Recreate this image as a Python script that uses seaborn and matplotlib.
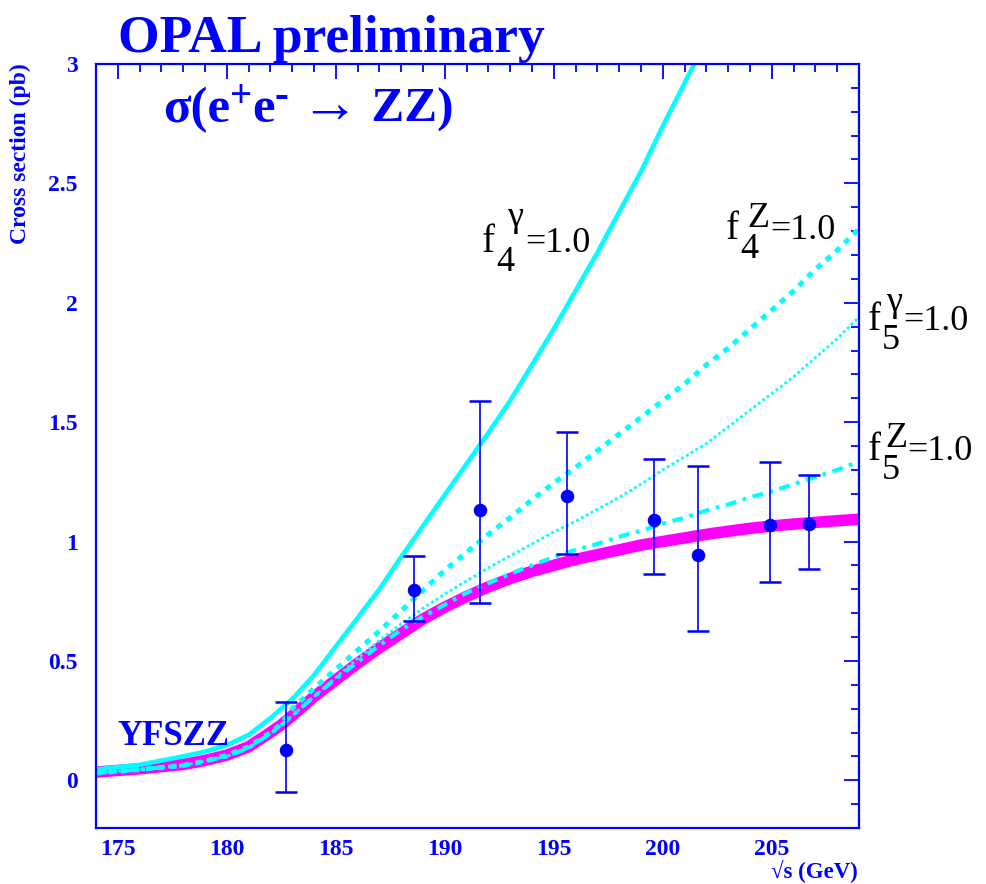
import numpy as np
import pandas as pd
import matplotlib
matplotlib.use("Agg")
import matplotlib.pyplot as plt
import seaborn as sns
from matplotlib.ticker import MultipleLocator, FuncFormatter

# ---------------- data ----------------
energy = [174, 176, 178, 179, 180, 181, 182, 182.5, 183, 184, 185, 186, 187, 188,
          189, 190, 191, 192, 193, 194, 195, 196, 197, 198, 199, 200, 201, 202,
          203, 204, 205, 206, 207, 208, 209]

sm_yfszz = [0.034, 0.048, 0.066, 0.083, 0.105, 0.14, 0.20, 0.232, 0.27, 0.35, 0.42,
            0.49, 0.555, 0.615, 0.675, 0.725, 0.77, 0.81, 0.845, 0.875, 0.90,
            0.925, 0.945, 0.965, 0.985, 1.0, 1.015, 1.03, 1.043, 1.055, 1.065,
            1.073, 1.08, 1.087, 1.093]

f4_gamma = [0.045, 0.065, 0.10, 0.12, 0.147, 0.19, 0.26, 0.30, 0.34, 0.44, 0.56,
            0.68, 0.80, 0.935, 1.065, 1.195, 1.325, 1.455, 1.59, 1.74, 1.89, 2.05,
            2.21, 2.38, 2.55, 2.74, 2.92, 3.10, 3.28, 3.46, 3.65, 3.84, 4.03, 4.23,
            4.43]

f4_z = [0.03, 0.045, 0.062, 0.08, 0.105, 0.14, 0.20, 0.235, 0.30, 0.385, 0.465,
        0.545, 0.625, 0.71, 0.795, 0.88, 0.955, 1.03, 1.10, 1.175, 1.245, 1.31,
        1.38, 1.45, 1.52, 1.59, 1.66, 1.74, 1.81, 1.89, 1.97, 2.05, 2.14, 2.22,
        2.31]

f5_gamma = [0.03, 0.045, 0.062, 0.08, 0.10, 0.135, 0.195, 0.23, 0.27, 0.35, 0.43,
            0.51, 0.585, 0.655, 0.72, 0.78, 0.835, 0.89, 0.94, 0.99, 1.04, 1.085,
            1.135, 1.185, 1.24, 1.30, 1.355, 1.41, 1.48, 1.55, 1.62, 1.69, 1.77,
            1.85, 1.94]

f5_z = [0.03, 0.045, 0.062, 0.08, 0.10, 0.135, 0.195, 0.23, 0.27, 0.35, 0.425,
        0.495, 0.565, 0.63, 0.685, 0.735, 0.785, 0.825, 0.865, 0.90, 0.935, 0.965,
        0.99, 1.02, 1.045, 1.075, 1.10, 1.13, 1.155, 1.185, 1.21, 1.24, 1.27,
        1.30, 1.335]

data_energy = [182.7, 188.6, 191.6, 195.6, 199.6, 201.6, 204.9, 206.7]
data_xsec = [0.126, 0.796, 1.131, 1.19, 1.089, 0.943, 1.068, 1.072]
data_err_up = [0.20, 0.144, 0.457, 0.268, 0.256, 0.372, 0.264, 0.206]
data_err_dn = [0.176, 0.13, 0.39, 0.243, 0.226, 0.319, 0.239, 0.188]

xticks = [175, 180, 185, 190, 195, 200, 205]
yticks = [0, 0.5, 1, 1.5, 2, 2.5, 3]

# ---------------- style ----------------
sns.set_theme(style="white")
plt.rcParams['font.family'] = ['Liberation Serif', 'DejaVu Serif']

BLUE = '#0000ff'
CYAN = '#00ffff'
MAG = '#ff00ff'
W, H = 986, 884

fig = plt.figure(figsize=(W / 100, H / 100), dpi=100)
ax = fig.add_axes([96 / W, 1 - 828 / H, (859 - 96) / W, (828 - 64) / H])

df = pd.DataFrame({'E': energy, 'sm': sm_yfszz, 'f4g': f4_gamma, 'f4z': f4_z,
                   'f5g': f5_gamma, 'f5z': f5_z})

sns.lineplot(data=df, x='E', y='sm', ax=ax, color=MAG, lw=8.3,
             solid_capstyle='butt')
sns.lineplot(data=df, x='E', y='f4g', ax=ax, color=CYAN, lw=3.3)
sns.lineplot(data=df, x='E', y='f4z', ax=ax, color=CYAN, lw=3.6,
             linestyle=(0, (1.2, 1.3)))
sns.lineplot(data=df, x='E', y='f5g', ax=ax, color=CYAN, lw=2.0,
             linestyle=(0, (1.0, 1.0)))
sns.lineplot(data=df, x='E', y='f5z', ax=ax, color=CYAN, lw=3.0,
             linestyle=(0, (2.6, 1.6, 0.9, 1.6)))

ax.errorbar(data_energy, data_xsec, yerr=[data_err_dn, data_err_up], fmt='none',
            ecolor=BLUE, elinewidth=1.2, capsize=8, capthick=1.8, zorder=5)
sns.scatterplot(x=data_energy, y=data_xsec, ax=ax, color=BLUE, s=95,
                edgecolor=BLUE, linewidth=0, zorder=6)

ax.set_xlim(174, 209)
ax.set_ylim(-0.2, 3.0)
ax.set_xlabel('')
ax.set_ylabel('')

# ticks
ax.set_xticks(xticks)
ax.set_yticks(yticks)
ax.xaxis.set_minor_locator(MultipleLocator(1))
ax.yaxis.set_minor_locator(MultipleLocator(0.1))
ax.yaxis.set_major_formatter(FuncFormatter(lambda v, p: f'{v:g}'))
ax.tick_params(which='both', direction='in', top=True, right=True,
               color=BLUE, width=1.3, labelcolor=BLUE)
ax.tick_params(which='major', length=11, labelsize=17)
ax.tick_params(which='minor', length=5.5)
ax.tick_params(axis='x', pad=8)
ax.tick_params(axis='y', pad=13)
for lab in ax.get_xticklabels() + ax.get_yticklabels():
    lab.set_fontweight('bold')
for sp in ax.spines.values():
    sp.set_color(BLUE)
    sp.set_linewidth(1.6)
    sp.set_visible(True)


def fx(px):
    return px / W


def fy(py):
    return 1 - py / H


renderer = fig.canvas.get_renderer()


def chain(x0, y0, pieces, **common):
    """Place text pieces one after another; each piece = (text, size, rise_px)."""
    x = x0
    for txt, size, rise in pieces:
        t = fig.text(fx(x), fy(y0 - rise), txt, fontsize=size, ha='left',
                     va='baseline', **common)
        x += t.get_window_extent(renderer=renderer).width


# texts
fig.text(fx(118), fy(52), 'OPAL preliminary', color=BLUE, fontsize=38.5,
         fontweight='bold', ha='left', va='baseline')
chain(163, 122, [('σ(e', 36.5, 0), ('+', 28, 15), ('e', 36.5, 0),
                 ('-', 30, 15), (' ', 33, 0), ('→', 42, 0), (' ZZ)', 35.5, 0)],
      color=BLUE, fontweight='bold')
fig.text(fx(20), fy(63), 'Cross section (pb)', color=BLUE, fontsize=17,
         fontweight='bold', rotation=90, ha='center', va='top')
fig.text(fx(858), fy(883), '√s (GeV)', color=BLUE, fontsize=16.5,
         fontweight='bold', ha='right', va='bottom')
ax.text(175.0, 0.147, 'YFSZZ', color=BLUE, fontsize=25, fontweight='bold',
        ha='left', va='baseline')

# coupling labels: (x, baseline, subscript, superscript, sub dx, sup dx, sup rise, eq dx)
coupling_labels = [
    (482, 252, '4', 'γ', 14, 25, 26, 43),
    (726, 239, '4', 'Z', 14, 21, 12, 44),
    (868, 330, '5', 'γ', 14, 18, 19, 35),
    (868, 460, '5', 'Z', 14, 17, 13, 39),
]
kw = dict(color='black', ha='left', va='baseline')
for x0, y0, sub, sup, sdx, pdx, rise, edx in coupling_labels:
    fig.text(fx(x0), fy(y0), 'f', fontsize=28, **kw)
    fig.text(fx(x0 + sdx), fy(y0 + 19), sub, fontsize=26, **kw)
    fig.text(fx(x0 + pdx), fy(y0 - rise), sup, fontsize=26, **kw)
    fig.text(fx(x0 + edx), fy(y0), '=1.0', fontsize=26, **kw)

fig.savefig('out.png', dpi=100)
